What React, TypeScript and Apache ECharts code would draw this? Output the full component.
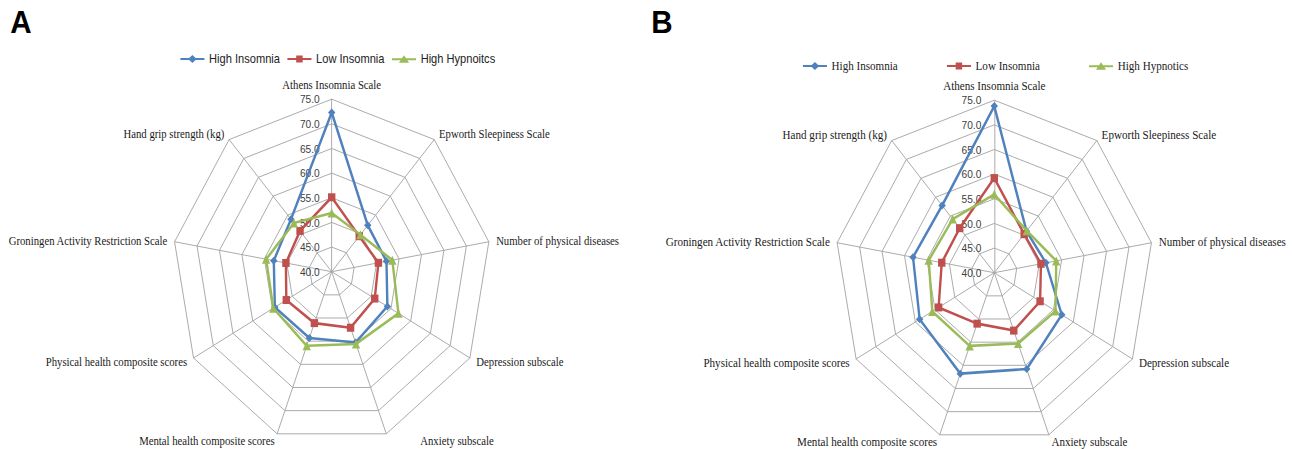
import React, { useEffect, useRef } from "react";
import * as echarts from "echarts";

// ---- data (clockwise from top) ----
const CATEGORIES = [
  "Athens Insomnia Scale",
  "Epworth Sleepiness Scale",
  "Number of physical diseases",
  "Depression subscale",
  "Anxiety subscale",
  "Mental health composite scores",
  "Physical health composite scores",
  "Groningen Activity Restriction Scale",
  "Hand grip strength (kg)",
];

const SERIES_NAMES_A = ["High Insomnia", "Low Insomnia", "High Hypnoitcs"];
const SERIES_NAMES_B = ["High Insomnia", "Low Insomnia", "High Hypnotics"];

const A_HIGH_INSOMNIA = [72.3, 52.3, 52.2, 54.1, 55.3, 54.3, 54.4, 52.9, 53.9];
const A_LOW_INSOMNIA = [55.1, 49.4, 50.4, 50.9, 52.1, 51.1, 51.5, 50.2, 50.8];
const A_HIGH_HYPNOTICS = [51.9, 49.8, 53.5, 56.9, 55.6, 56.0, 54.8, 54.6, 52.9];

const B_HIGH_INSOMNIA = [73.8, 51.0, 51.5, 57.1, 60.8, 61.8, 58.9, 58.1, 57.8];
const B_LOW_INSOMNIA = [59.2, 50.2, 50.4, 51.6, 52.5, 51.0, 54.1, 51.7, 51.8];
const B_HIGH_HYPNOTICS = [55.9, 51.1, 53.8, 55.5, 55.3, 55.8, 55.7, 54.6, 54.2];

const AXIS_MIN = 40;
const AXIS_MAX = 75;
const AXIS_STEP = 5;

// ---- styling ----
const COLORS = ["#4F81BD", "#C0504D", "#9BBB59"];
const SYMBOLS = ["diamond", "rect", "triangle"];
const SYMBOL_SIZES = [8, 8, 9];
const ICONS = [
  "path://M0,3 L9.5,3 L13,0 L16.5,3 L26,3 L26,5 L16.5,5 L13,8 L9.5,5 L0,5 Z",
  "path://M0,3 L9.5,3 L9.5,0.5 L16.5,0.5 L16.5,3 L26,3 L26,5 L16.5,5 L16.5,7.5 L9.5,7.5 L9.5,5 L0,5 Z",
  "path://M0,3 L10.8,3 L13,0 L15.2,3 L26,3 L26,5 L16.67,5 L18.5,7.5 L7.5,7.5 L9.33,5 L0,5 Z",
];

const SCALE_X = 0.925;
const W = Math.round(1292 / SCALE_X);
const H = 449;

// ECharts radar runs counter-clockwise; reorder to get clockwise layout
const toCCW = <T,>(arr: T[]): T[] => [arr[0], ...arr.slice(1).reverse()];

const GRID_COLOR = "#a8a8a8";

function makeRadar(center: number[], nameSize: number, padAnxiety: boolean) {
  return {
    center,
    radius: 172.5,
    startAngle: 90,
    splitNumber: 7,
    shape: "polygon",
    nameGap: 8,
    indicator: toCCW(CATEGORIES).map((name) => ({ name, min: AXIS_MIN, max: AXIS_MAX })),
    axisName: {
      color: "#1a1a1a",
      fontFamily: "Liberation Serif",
      fontSize: nameSize,
      formatter: (name: string) =>
        padAnxiety && name === "Anxiety subscale" ? `{pad|${name}}` : name,
      rich: {
        pad: {
          padding: [0, 0, 0, 34],
          color: "#1a1a1a",
          fontFamily: "Liberation Serif",
          fontSize: nameSize,
        },
      },
    },
    splitLine: { lineStyle: { color: GRID_COLOR, width: 1 } },
    splitArea: { show: false },
    axisLine: { lineStyle: { color: GRID_COLOR, width: 1 } },
    axisTick: { show: false },
    axisLabel: { show: false },
  };
}

function makeRadiusAxis(polarIndex: number, margin: number) {
  return {
    polarIndex,
    type: "value",
    min: AXIS_MIN,
    max: AXIS_MAX,
    interval: AXIS_STEP,
    axisLine: { show: false },
    axisTick: { show: false },
    splitLine: { show: false },
    axisLabel: {
      margin,
      fontSize: 11,
      color: "#404040",
      fontFamily: "Liberation Sans",
      formatter: (v: number) => v.toFixed(1),
    },
  };
}

function makeSeries(radarIndex: number, names: string[], values: number[][]) {
  return values.map((vals, i) => ({
    type: "radar",
    radarIndex,
    name: names[i],
    symbol: SYMBOLS[i],
    symbolSize: SYMBOL_SIZES[i],
    lineStyle: { color: COLORS[i], width: 2.6 },
    itemStyle: { color: COLORS[i] },
    z: 2 + i,
    data: [{ name: names[i], value: toCCW(vals) }],
  }));
}

export default function App() {
  const ref = useRef<HTMLDivElement>(null);

  useEffect(() => {
    if (!ref.current) return;
    const chart = echarts.init(ref.current, undefined, { renderer: "svg" });
    const centerA = [358.6, 271.7];
    const centerB = [1074.9, 272.7];
    chart.setOption({
      animation: false,
      backgroundColor: "#ffffff",
      graphic: [
        {
          type: "text",
          left: 11,
          top: 6,
          style: { text: "A", fontFamily: "Liberation Sans", fontWeight: "bold", fontSize: 32, fill: "#000" },
        },
        {
          type: "text",
          left: 704,
          top: 6,
          style: { text: "B", fontFamily: "Liberation Sans", fontWeight: "bold", fontSize: 32, fill: "#000" },
        },
      ],
      legend: [
        {
          left: 190,
          top: 48,
          itemWidth: 26,
          itemHeight: 8,
          itemGap: 8,
          textStyle: { fontFamily: "Liberation Sans", fontSize: 12, color: "#222" },
          data: SERIES_NAMES_A.map((name, i) => ({ name, icon: ICONS[i] })),
        },
        {
          left: 863,
          top: 55,
          itemWidth: 26,
          itemHeight: 8,
          itemGap: 53,
          textStyle: { fontFamily: "Liberation Serif", fontSize: 12, color: "#222" },
          data: SERIES_NAMES_B.map((name, i) => ({ name, icon: ICONS[i] })),
        },
      ],
      radar: [makeRadar(centerA, 11.6, true), makeRadar(centerB, 12, false)],
      polar: [
        { center: centerA, radius: 172.5 },
        { center: centerB, radius: 172.5 },
      ],
      angleAxis: [
        { polarIndex: 0, type: "value", show: false, startAngle: 90 },
        { polarIndex: 1, type: "value", show: false, startAngle: 90 },
      ],
      radiusAxis: [makeRadiusAxis(0, 13), makeRadiusAxis(1, 14)],
      series: [
        ...makeSeries(0, SERIES_NAMES_A, [A_HIGH_INSOMNIA, A_LOW_INSOMNIA, A_HIGH_HYPNOTICS]),
        ...makeSeries(1, SERIES_NAMES_B, [B_HIGH_INSOMNIA, B_LOW_INSOMNIA, B_HIGH_HYPNOTICS]),
      ],
    });
    return () => chart.dispose();
  }, []);

  return (
    <div
      ref={ref}
      style={{
        position: "absolute",
        left: 0,
        top: 0,
        width: W,
        height: H,
        transform: `scaleX(${SCALE_X})`,
        transformOrigin: "0 0",
        background: "#fff",
      }}
    />
  );
}
